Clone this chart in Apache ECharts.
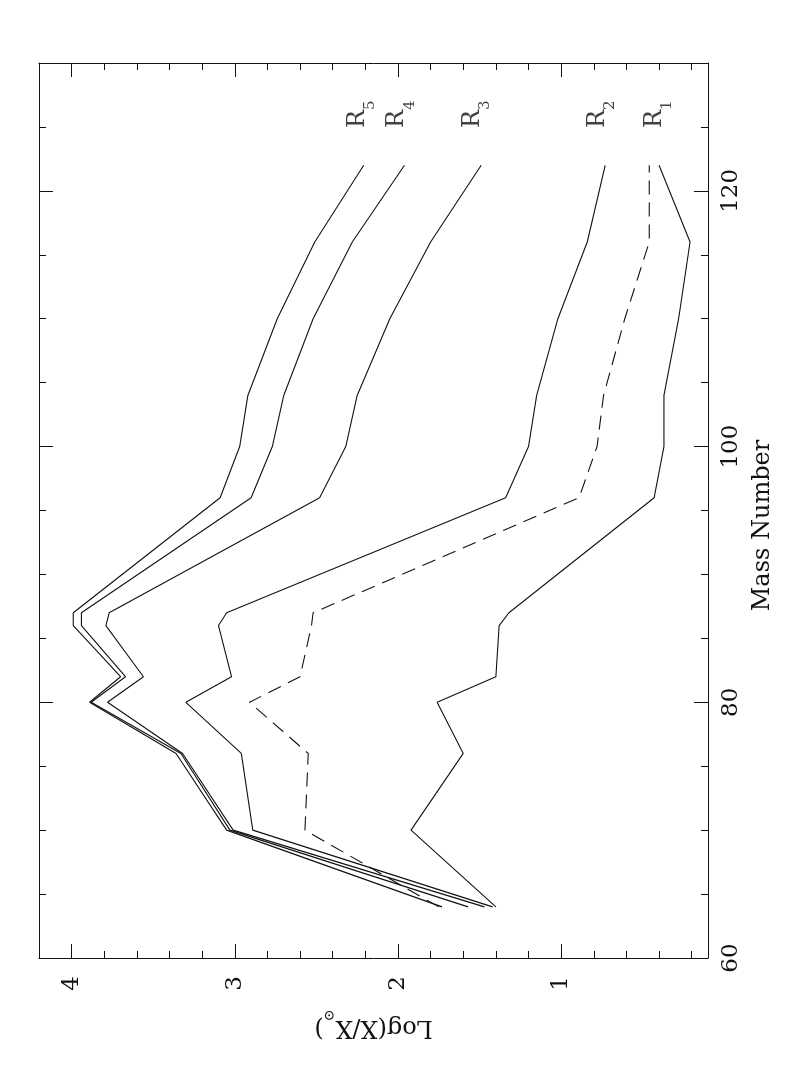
<!DOCTYPE html>
<html>
<head>
<meta charset="utf-8">
<script src="https://cdn.jsdelivr.net/npm/echarts@6/dist/echarts.min.js"></script>
<style>
  html, body { margin: 0; padding: 0; background: #fff; }
  #chart { width: 797px; height: 1067px; }
</style>
</head>
<body>
<div id="chart"></div>
<script>
// mass numbers of the points (vertical axis)
const massNumbers = [64, 70, 76, 80, 82, 86, 87, 96, 100, 104, 110, 116, 122];

// Log(X/X_sun) per curve
const r1 = [1.40, 1.92, 1.60, 1.76, 1.40, 1.38, 1.32, 0.43, 0.37, 0.37, 0.28, 0.21, 0.40];
const dashedRun = [1.75, 2.57, 2.55, 2.91, 2.60, 2.53, 2.52, 0.89, 0.78, 0.74, 0.61, 0.46, 0.46];
const r2 = [1.42, 2.89, 2.96, 3.30, 3.02, 3.10, 3.05, 1.34, 1.20, 1.15, 1.02, 0.84, 0.73];
const r3 = [1.47, 3.01, 3.32, 3.78, 3.56, 3.79, 3.77, 2.48, 2.32, 2.25, 2.05, 1.80, 1.49];
const r4 = [1.57, 3.03, 3.33, 3.88, 3.67, 3.94, 3.94, 2.90, 2.77, 2.70, 2.52, 2.28, 1.96];
const r5 = [1.73, 3.05, 3.36, 3.89, 3.70, 3.99, 3.99, 3.09, 2.97, 2.92, 2.74, 2.51, 2.21];

// curve labels R1..R5
const labelIds = ['1', '2', '3', '4', '5'];
const labelLog = [0.40, 0.75, 1.52, 1.98, 2.22];
const labelMass = 126;

// ticks
const logTicks = [1, 2, 3, 4];
const logMinorTicks = [0.2, 0.4, 0.6, 0.8, 1.2, 1.4, 1.6, 1.8, 2.2, 2.4, 2.6, 2.8, 3.2, 3.4, 3.6, 3.8, 4.2];
const massTicks = [60, 80, 100, 120];
const massMinorTicks = [65, 70, 75, 85, 90, 95, 105, 110, 115, 125];

const FONT = 'DejaVu Serif';
const INK = '#111';

const pairs = (vals) => vals.map((v, i) => [v, massNumbers[i]]);

const chart = echarts.init(document.getElementById('chart'));

const logAxis = (pos, major, withLabels) => ({
  type: 'value',
  position: pos,
  min: 0.1,
  max: 4.2,
  inverse: true,
  axisLine: { show: major, lineStyle: { color: INK, width: 1 } },
  axisTick: {
    show: true,
    inside: true,
    length: major ? 14 : 7,
    customValues: major ? logTicks : logMinorTicks,
    lineStyle: { color: INK, width: 1 }
  },
  axisLabel: {
    show: withLabels,
    customValues: logTicks,
    rotate: 90,
    margin: 18,
    color: INK,
    fontFamily: FONT,
    fontSize: 23
  },
  splitLine: { show: false }
});

const massAxis = (pos, major, withLabels) => ({
  type: 'value',
  position: pos,
  min: 60,
  max: 130,
  axisLine: { show: major, lineStyle: { color: INK, width: 1 } },
  axisTick: {
    show: true,
    inside: true,
    length: major ? 14 : 7,
    customValues: major ? massTicks : massMinorTicks,
    lineStyle: { color: INK, width: 1 }
  },
  axisLabel: {
    show: withLabels,
    customValues: massTicks,
    rotate: 90,
    margin: 12,
    color: INK,
    fontFamily: FONT,
    fontSize: 23
  },
  splitLine: { show: false }
});

// axis title is upside down, so the sun symbol must sit low in its own frame
const xMain = logAxis('bottom', true, true);
xMain.name = '{m|Log(X/X}{s|⊙}{m|)}';
xMain.nameLocation = 'middle';
xMain.nameGap = 50;
xMain.nameRotate = 180;
xMain.nameTextStyle = {
  color: INK, fontFamily: FONT, fontSize: 24,
  rich: {
    m: { fontFamily: FONT, fontSize: 24, color: INK, padding: [0, 0, 7, 0] },
    s: { fontFamily: FONT, fontSize: 14, color: INK, verticalAlign: 'bottom' }
  }
};

const yMain = massAxis('right', true, true);
yMain.name = 'Mass Number';
yMain.nameLocation = 'middle';
yMain.nameGap = 38;
yMain.nameRotate = 90;
yMain.nameTextStyle = { color: INK, fontFamily: FONT, fontSize: 24, padding: [0, 30, 0, 0] };

const lineSeries = (vals, dashed) => ({
  type: 'line',
  data: pairs(vals),
  symbol: 'none',
  silent: true,
  lineStyle: { color: INK, width: 1.1, type: dashed ? [14, 8] : 'solid' }
});

chart.setOption({
  animation: false,
  backgroundColor: '#fff',
  grid: { left: 39, right: 89, top: 63, bottom: 109 },
  xAxis: [xMain, logAxis('bottom', false, false), logAxis('top', true, false), logAxis('top', false, false)],
  yAxis: [yMain, massAxis('right', false, false), massAxis('left', true, false), massAxis('left', false, false)],
  series: [
    lineSeries(r1, false),
    lineSeries(dashedRun, true),
    lineSeries(r2, false),
    lineSeries(r3, false),
    lineSeries(r4, false),
    lineSeries(r5, false),
    {
      type: 'scatter',
      symbolSize: 0,
      silent: true,
      data: labelIds.map((id, i) => [labelLog[i], labelMass, id]),
      label: {
        show: true,
        position: 'inside',
        rotate: 90,
        formatter: (p) => '{r|R}{s|' + p.value[2] + '}',
        rich: {
          r: { fontFamily: FONT, fontSize: 24, color: INK, padding: [0, 0, 8, 0] },
          s: { fontFamily: FONT, fontSize: 15, color: INK, verticalAlign: 'bottom' }
        }
      }
    }
  ]
});
</script>
</body>
</html>
